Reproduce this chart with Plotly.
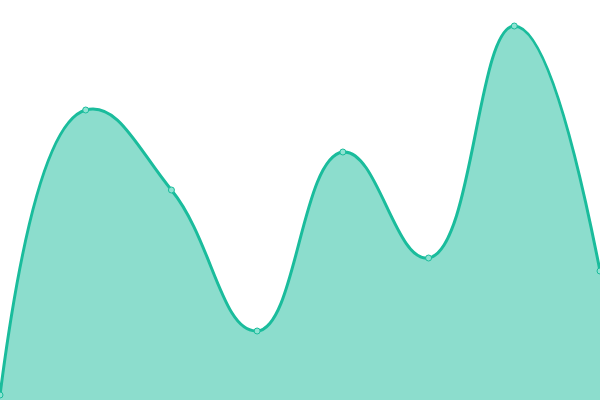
import plotly.graph_objects as go

x_vals = [0, 1, 2, 3, 4, 5, 6, 7]
y_vals = [5, 290, 210, 69, 248, 142, 374, 129]

fig = go.Figure(go.Scatter(
    x=x_vals,
    y=y_vals,
    mode='lines+markers',
    line=dict(shape='spline', smoothing=1.3, color='#1ABC9C', width=3),
    marker=dict(size=6, color='#8EE3D2', line=dict(color='#1ABC9C', width=1)),
    fill='tozeroy',
    fillcolor='rgba(26,188,156,0.5)',
    hoverinfo='skip',
))
fig.update_layout(
    width=600,
    height=400,
    margin=dict(l=0, r=0, t=0, b=0),
    paper_bgcolor='white',
    plot_bgcolor='white',
    showlegend=False,
    xaxis=dict(range=[0, 7], visible=False, fixedrange=True),
    yaxis=dict(range=[0, 400], visible=False, fixedrange=True),
)
# page body has a default 8px margin; remove it so the chart fills the window
fig.write_html(
    "out.html",
    config={'displayModeBar': False},
    post_script="document.body.style.margin='0';document.body.style.overflow='hidden';",
)
